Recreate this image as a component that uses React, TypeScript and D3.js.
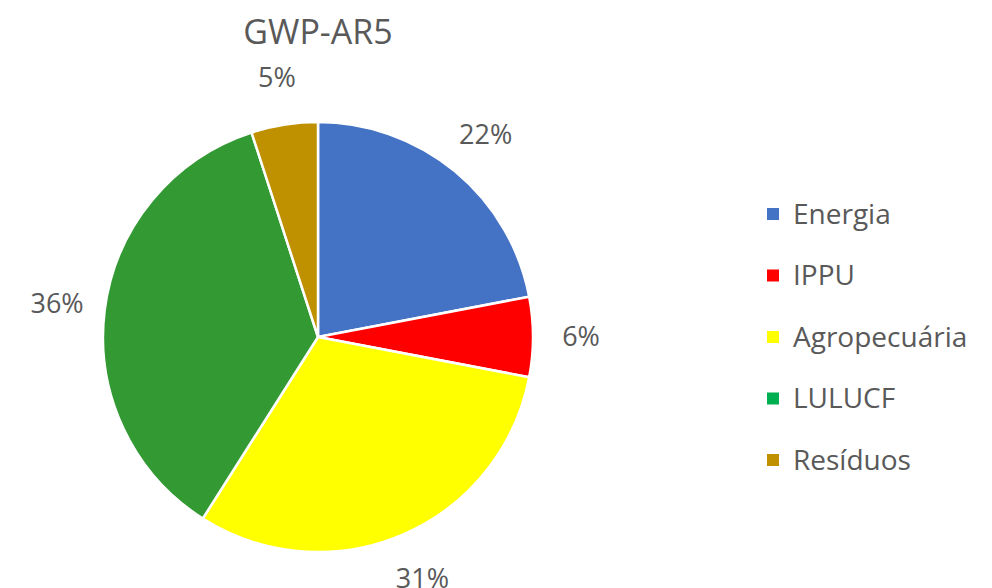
import React, { useRef, useEffect } from "react";
import * as d3 from "d3";

const categories = ["Energia", "IPPU", "Agropecuária", "LULUCF", "Resíduos"];
const values = [22, 6, 31, 36, 5];
const sliceColors = ["#4472C4", "#FF0000", "#FFFF00", "#339933", "#BF9000"];
const legendColors = ["#4472C4", "#FF0000", "#FFFF00", "#00B050", "#BF9000"];
const title = "GWP-AR5";

export default function App() {
  const svgRef = useRef<SVGSVGElement | null>(null);

  useEffect(() => {
    const width = 992, height = 588;
    const cx = 318, cy = 337, radius = 215, labelRadius = 263;
    const font = "'Open Sans', 'Noto Sans', sans-serif";
    const textColor = "#595959";

    const svg = d3.select(svgRef.current).attr("width", width).attr("height", height);
    svg.selectAll("*").remove();

    svg.append("rect").attr("width", width).attr("height", height).attr("fill", "#fff");

    svg.append("text")
      .attr("x", cx).attr("y", 44)
      .attr("text-anchor", "middle")
      .attr("font-family", font).attr("font-size", 34)
      .attr("fill", textColor)
      .text(title);

    const data = categories.map((c, i) => ({ name: c, value: values[i], i }));
    const pie = d3.pie<any>().value(d => d.value).sort(null);
    const arcs = pie(data);
    const arc = d3.arc<any>().innerRadius(0).outerRadius(radius);
    const labelArc = d3.arc<any>().innerRadius(labelRadius).outerRadius(labelRadius);

    const g = svg.append("g").attr("transform", `translate(${cx},${cy})`);
    g.selectAll("path").data(arcs).join("path")
      .attr("d", arc)
      .attr("fill", d => sliceColors[d.data.i])
      .attr("stroke", "#fff")
      .attr("stroke-width", 2.5);

    g.selectAll("text.lbl").data(arcs).join("text")
      .attr("class", "lbl")
      .attr("transform", d => `translate(${labelArc.centroid(d)})`)
      .attr("text-anchor", "middle")
      .attr("dy", "0.35em")
      .attr("font-family", font).attr("font-size", 27)
      .attr("fill", textColor)
      .text(d => `${d.data.value}%`);

    const y = d3.scalePoint().domain(categories).range([214, 460]);
    const legend = svg.append("g").attr("font-family", font).attr("font-size", 28);
    const items = legend.selectAll("g").data(categories).join("g")
      .attr("transform", d => `translate(767,${y(d)})`);
    items.append("rect")
      .attr("x", 0).attr("y", -6).attr("width", 12).attr("height", 12)
      .attr("fill", (d, i) => legendColors[i]);
    items.append("text")
      .attr("x", 26).attr("y", 0)
      .attr("dy", "0.35em")
      .attr("fill", textColor)
      .text(d => d);
  }, []);

  return <svg ref={svgRef} style={{ position: "absolute", left: 0, top: 0 }} />;
}
